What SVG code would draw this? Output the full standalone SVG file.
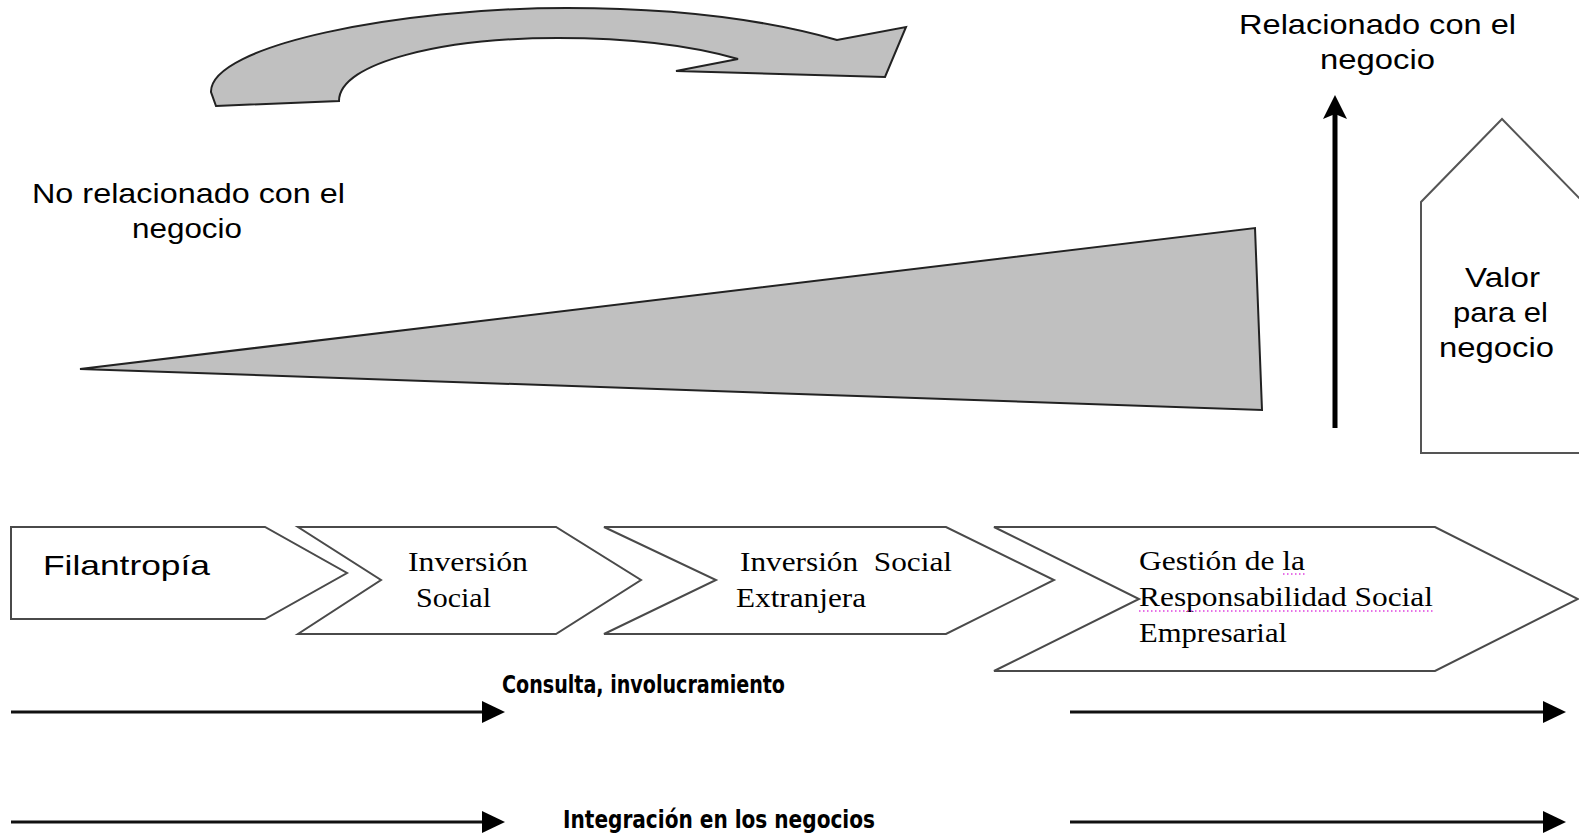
<svg xmlns="http://www.w3.org/2000/svg" width="1579" height="839" viewBox="0 0 1579 839">
<style>
.sans{font-family:"Liberation Sans",Arial,sans-serif;font-size:28px;fill:#000}
.serif{font-family:"Liberation Serif","Times New Roman",serif;font-size:28px;fill:#000}
.comic{font-family:"DejaVu Sans Condensed","DejaVu Sans",sans-serif;font-weight:bold;font-size:25px;fill:#000}
.chev{fill:#fff;stroke:#4a4a4a;stroke-width:2;stroke-linejoin:miter}
.gray{fill:#c0c0c0;stroke:#222;stroke-width:2;stroke-linejoin:miter}
.line{stroke:#111;stroke-width:3;fill:none}
.head{fill:#000}
.spell{stroke:#e040e0;stroke-width:1.5;stroke-dasharray:1.5 2.5;fill:none}
</style>
<rect width="1579" height="839" fill="#fff"/>

<g id="curved-arrow">
<path class="gray" d="M216,106 L339,101 C339,62 445,38 558,38 C640,38 700,48 738,59 L676,71 L885,77 L906,27 L837,40 C760,18 670,8 567,8 C400,8 210,45 211,92 Z"/>
</g>

<g id="label-no-relacionado">
<text class="sans" x="32" y="203" textLength="313" lengthAdjust="spacingAndGlyphs">No relacionado con el</text>
<text class="sans" x="132" y="238" textLength="110" lengthAdjust="spacingAndGlyphs">negocio</text>
</g>

<g id="label-relacionado">
<text class="sans" x="1239" y="34" textLength="277" lengthAdjust="spacingAndGlyphs">Relacionado con el</text>
<text class="sans" x="1320" y="69" textLength="115" lengthAdjust="spacingAndGlyphs">negocio</text>
</g>

<g id="wedge">
<polygon class="gray" points="80,369 1255,228 1262,410"/>
</g>

<g id="valor">
<polygon points="1421,453 1421,202 1502,119 1583,202 1583,453" fill="#fff" stroke="#555" stroke-width="2"/>
<text class="sans" x="1465" y="287" textLength="75" lengthAdjust="spacingAndGlyphs">Valor</text>
<text class="sans" x="1453" y="322" textLength="95" lengthAdjust="spacingAndGlyphs">para el</text>
<text class="sans" x="1439" y="357" textLength="115" lengthAdjust="spacingAndGlyphs">negocio</text>
</g>

<g id="filantropia">
<polygon class="chev" points="11,527 265,527 347,573 265,619 11,619"/>
<text class="sans" x="43" y="575" font-size="30" textLength="167" lengthAdjust="spacingAndGlyphs">Filantropía</text>
</g>

<g id="inversion-social">
<polygon class="chev" points="298,527 556,527 641,580 556,634 298,634 381,580"/>
<text class="serif" x="408" y="571" textLength="120" lengthAdjust="spacingAndGlyphs">Inversión</text>
<text class="serif" x="416" y="607" textLength="75" lengthAdjust="spacingAndGlyphs">Social</text>
</g>

<g id="inversion-extranjera">
<polygon class="chev" points="604,527 946,527 1054,580 946,634 604,634 716,580"/>
<text class="serif" x="740" y="571" xml:space="preserve" textLength="212" lengthAdjust="spacingAndGlyphs">Inversión  Social</text>
<text class="serif" x="736" y="607" textLength="130" lengthAdjust="spacingAndGlyphs">Extranjera</text>
</g>

<g id="gestion-rse">
<polygon class="chev" points="994,527 1435,527 1578,599 1435,671 994,671 1139,599"/>
<text class="serif" x="1139" y="570" textLength="166" lengthAdjust="spacingAndGlyphs">Gestión de la</text>
<text class="serif" x="1139" y="606" textLength="294" lengthAdjust="spacingAndGlyphs">Responsabilidad Social</text>
<text class="serif" x="1139" y="642" textLength="148" lengthAdjust="spacingAndGlyphs">Empresarial</text>
<line class="spell" x1="1283" y1="574" x2="1307" y2="574"/>
<line class="spell" x1="1139" y1="611" x2="1433" y2="611"/>
</g>

<g id="label-consulta">
<text class="comic" x="502" y="693" textLength="283" lengthAdjust="spacingAndGlyphs">Consulta, involucramiento</text>
</g>

<g id="label-integracion">
<text class="comic" x="563" y="828" textLength="312" lengthAdjust="spacingAndGlyphs">Integración en los negocios</text>
</g>

<g id="connectors">
<line x1="1335" y1="428" x2="1335" y2="112" stroke="#000" stroke-width="5"/>
<polygon class="head" points="1335,95 1347,119 1335,114 1323,119"/>
<line class="line" x1="11" y1="712" x2="484" y2="712"/>
<polygon class="head" points="505,712 482,701 482,723"/>
<line class="line" x1="1070" y1="712" x2="1545" y2="712"/>
<polygon class="head" points="1566,712 1543,701 1543,723"/>
<line class="line" x1="11" y1="822" x2="484" y2="822"/>
<polygon class="head" points="505,822 482,811 482,833"/>
<line class="line" x1="1070" y1="822" x2="1545" y2="822"/>
<polygon class="head" points="1566,822 1543,811 1543,833"/>
</g>
</svg>
